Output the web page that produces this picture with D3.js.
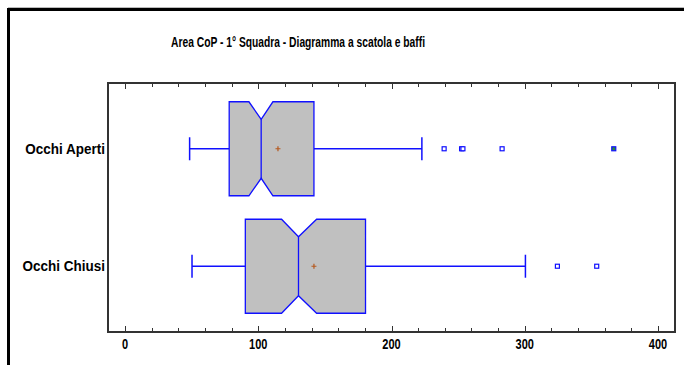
<!DOCTYPE html>
<html>
<head>
<meta charset="utf-8">
<script src="https://cdn.jsdelivr.net/npm/d3@7"></script>
<style>
  html, body { margin: 0; padding: 0; background: #fff; }
  svg { display: block; }
  text { font-family: "Liberation Sans", Arial, sans-serif; font-weight: bold; fill: #000; }
</style>
</head>
<body>
<svg id="chart" width="684" height="365"></svg>
<script>
// Box-and-whisker summary per group
const categories = ["Occhi Aperti", "Occhi Chiusi"];
const whiskerLow  = [48.5, 50.3];
const q1          = [78.2, 90.3];
const median      = [102.2, 130.2];
const q3          = [141.8, 180.5];
const whiskerHigh = [222.8, 300.5];
const notchLow    = [93.0, 117.5];
const notchHigh   = [111.0, 143.8];
const mean        = [114.8, 141.8];
const outliers    = [[239.5, 252.6, 253.6, 283.0], [324.5, 354.0]];
const farOutliers = [[366.8], []];
const xTicks      = [0, 100, 200, 300, 400];
const title = "Area CoP - 1° Squadra - Diagramma a scatola e baffi";

const svg = d3.select("#chart");
const plot = { left: 108, right: 675, top: 83, bottom: 332 };

// bold lettering drawn at a font size, stretched vertically
function label(xp, yp, str, size, stretch, anchor, width) {
  const t = svg.append("text")
    .attr("transform", `translate(${xp},${yp}) scale(1,${stretch})`)
    .attr("text-anchor", anchor).attr("font-size", size).text(str);
  if (width) t.attr("textLength", width).attr("lengthAdjust", "spacingAndGlyphs");
  return t;
}

// outer frame
svg.append("line").attr("x1", 8).attr("x2", 684).attr("y1", 7.5).attr("y2", 7.5)
  .attr("stroke", "#bbb").attr("stroke-width", 1);
svg.append("path").attr("d", "M8.5,365 V9.5 H684")
  .attr("fill", "none").attr("stroke", "#000").attr("stroke-width", 3);

label(298, 46.5, title, 11, 1.35, "middle", 254);

const x = d3.scaleLinear().domain([-12.75, 412.75]).range([plot.left, plot.right]);
const y = d3.scalePoint().domain(categories).range([plot.top, plot.bottom]).padding(0.56);

// plot border
svg.append("rect").attr("x", plot.left).attr("y", plot.top)
  .attr("width", plot.right - plot.left).attr("height", plot.bottom - plot.top)
  .attr("fill", "none").attr("stroke", "#333").attr("stroke-width", 2);

// ticks: majors every 100, minors every 20, mirrored on top edge
const minor = d3.range(0, 401, 20);
const axisG = svg.append("g");
minor.forEach(v => {
  const len = v % 100 === 0 ? 6 : 4;
  const xx = Math.round(x(v)) + 0.5;
  axisG.append("line").attr("x1", xx).attr("x2", xx)
    .attr("y1", plot.bottom).attr("y2", plot.bottom - len).attr("stroke", "#333");
  axisG.append("line").attr("x1", xx).attr("x2", xx)
    .attr("y1", plot.top).attr("y2", plot.top + len).attr("stroke", "#333");
});
xTicks.forEach(v => label(x(v), plot.bottom + 17, String(v), 11, 1.27, "middle"));

// category labels
categories.forEach(c => label(105, y(c) + 5, c, 13.5, 1.1, "end"));

const blue = "#1010ff";
const halfH = 47, notchDepth = 17.5, capH = 11.5;

categories.forEach((c, i) => {
  const cy = y(c);
  const top = cy - halfH, bot = cy + halfH;
  const g = svg.append("g");
  // whiskers
  g.append("line").attr("x1", x(whiskerLow[i])).attr("x2", x(q1[i]))
    .attr("y1", cy).attr("y2", cy).attr("stroke", blue).attr("stroke-width", 1.5);
  g.append("line").attr("x1", x(q3[i])).attr("x2", x(whiskerHigh[i]))
    .attr("y1", cy).attr("y2", cy).attr("stroke", blue).attr("stroke-width", 1.5);
  [whiskerLow[i], whiskerHigh[i]].forEach(v => {
    g.append("line").attr("x1", x(v)).attr("x2", x(v))
      .attr("y1", cy - capH).attr("y2", cy + capH).attr("stroke", blue).attr("stroke-width", 1.5);
  });
  // notched box
  const p = d3.path();
  p.moveTo(x(q1[i]), top);
  p.lineTo(x(notchLow[i]), top);
  p.lineTo(x(median[i]), top + notchDepth);
  p.lineTo(x(notchHigh[i]), top);
  p.lineTo(x(q3[i]), top);
  p.lineTo(x(q3[i]), bot);
  p.lineTo(x(notchHigh[i]), bot);
  p.lineTo(x(median[i]), bot - notchDepth);
  p.lineTo(x(notchLow[i]), bot);
  p.lineTo(x(q1[i]), bot);
  p.closePath();
  g.append("path").attr("d", p.toString()).attr("fill", "#c0c0c0")
    .attr("stroke", blue).attr("stroke-width", 1.3);
  g.append("line").attr("x1", x(median[i])).attr("x2", x(median[i]))
    .attr("y1", top + notchDepth).attr("y2", bot - notchDepth)
    .attr("stroke", blue).attr("stroke-width", 1.3);
  // mean marker
  const mx = x(mean[i]);
  g.append("path").attr("d", `M${mx - 2.5},${cy} H${mx + 2.5} M${mx},${cy - 2.5} V${cy + 2.5}`)
    .attr("stroke", "#b5581e").attr("stroke-width", 1.2);
  // outliers
  outliers[i].forEach(v => {
    g.append("rect").attr("x", x(v) - 2).attr("y", cy - 2).attr("width", 4).attr("height", 4)
      .attr("fill", "#fff").attr("stroke", blue).attr("stroke-width", 1.2);
  });
  farOutliers[i].forEach(v => {
    g.append("rect").attr("x", x(v) - 2).attr("y", cy - 2).attr("width", 4).attr("height", 4)
      .attr("fill", "#2a8a3a").attr("stroke", blue).attr("stroke-width", 1.2);
  });
});
</script>
</body>
</html>
